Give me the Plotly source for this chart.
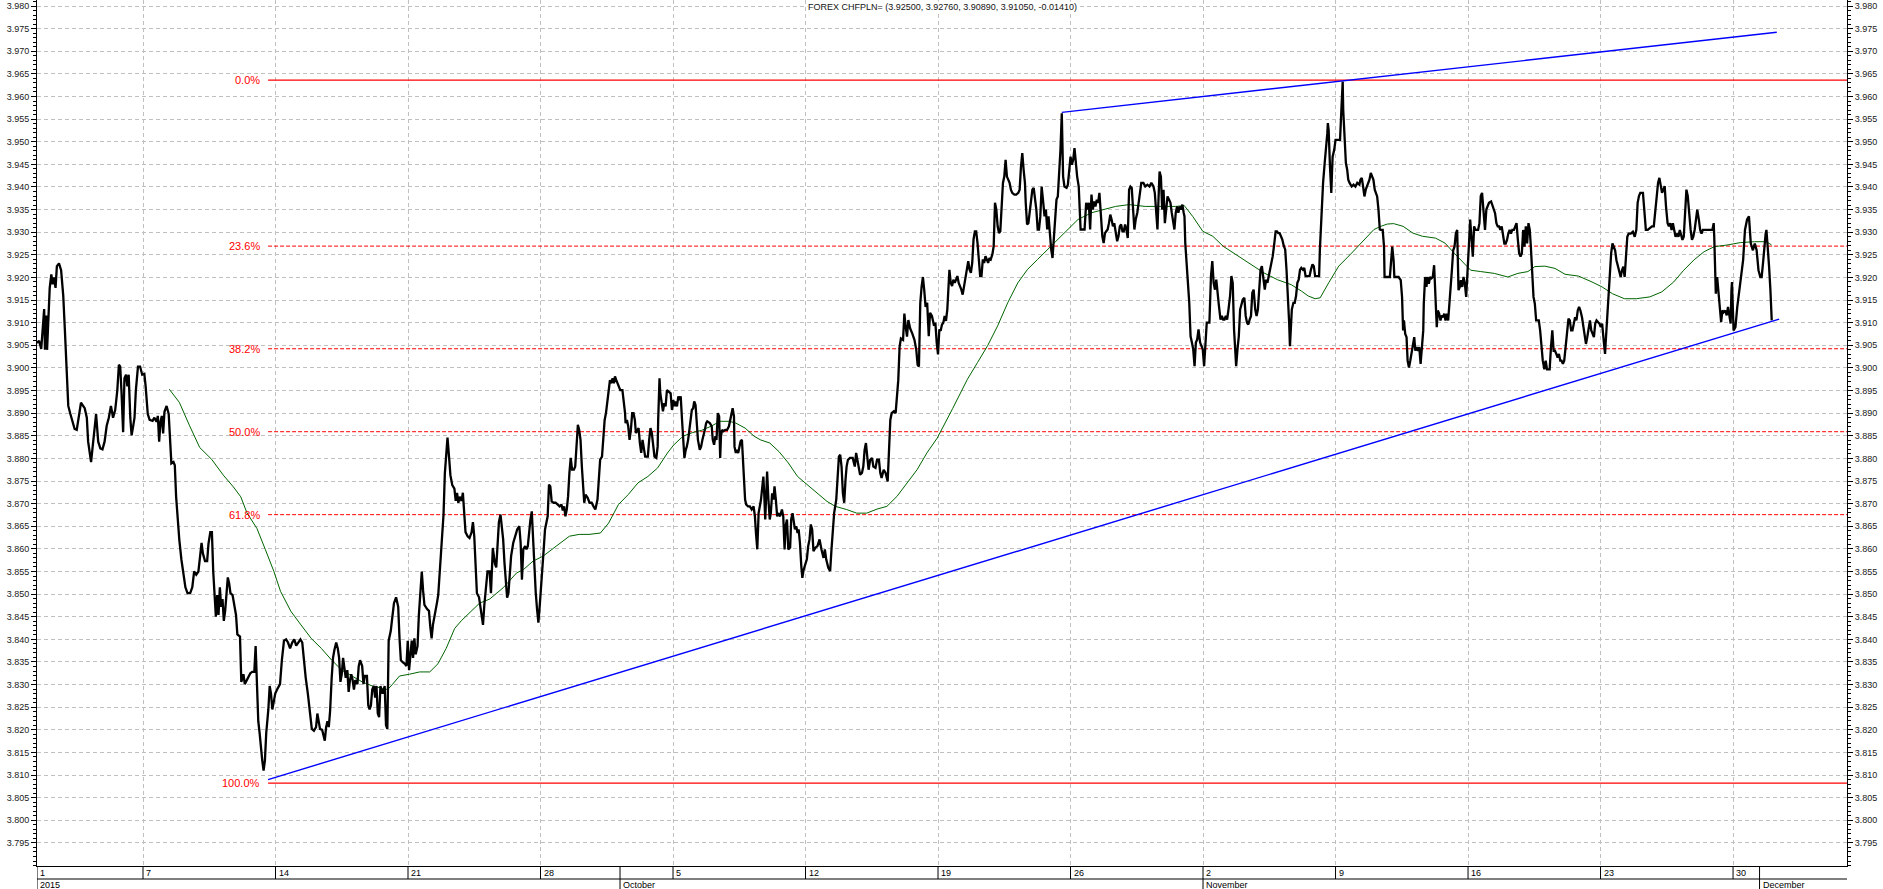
import numpy as np
import pandas as pd
import plotly.graph_objects as go

# ---------------- data (time in trading days since 2015-09-01 00:00) ----------------
START = "2015-09-01"

sep_pts = [
(0.00,3.9055),(0.08,3.9060),(0.16,3.9042),(0.21,3.9090),(0.27,3.9130),(0.30,3.9040),(0.35,3.9116),(0.38,3.9040),
(0.43,3.9130),(0.48,3.9177),(0.54,3.9207),(0.59,3.9185),(0.64,3.9200),(0.70,3.9177),(0.75,3.9225),(0.83,3.9231),
(0.91,3.9216),(0.99,3.9160),(1.05,3.9086),(1.13,3.8994),(1.18,3.8916),(1.26,3.8898),(1.34,3.8881),(1.42,3.8865),
(1.50,3.8863),(1.58,3.8898),(1.66,3.8923),(1.80,3.8911),(1.88,3.8890),(1.93,3.8837),(1.99,3.8811),(2.04,3.8792),
(2.09,3.8820),(2.17,3.8872),(2.23,3.8898),(2.31,3.8837),(2.39,3.8822),(2.47,3.8820),(2.55,3.8837),(2.63,3.8872),
(2.71,3.8890),(2.79,3.8916),(2.87,3.8890),(2.95,3.8907),(3.03,3.8950),(3.09,3.9007),(3.14,3.9003),(3.19,3.8945),
(3.25,3.8858),(3.30,3.8977),(3.36,3.8985),(3.41,3.8959),(3.46,3.8985),(3.52,3.8890),(3.57,3.8851),(3.62,3.8868),
(3.68,3.8890),(3.73,3.8950),(3.81,3.9003),(3.89,3.9003),(3.97,3.8985),(4.05,3.8987),(4.10,3.8959),(4.18,3.8898),
(4.25,3.8885),(4.36,3.8883),(4.43,3.8890),(4.51,3.8881),(4.56,3.8894),(4.61,3.8837),(4.66,3.8881),(4.71,3.8894),
(4.76,3.8855),(4.81,3.8903),(4.89,3.8916),(4.97,3.8898),(5.02,3.8846),(5.07,3.8789),(5.15,3.8792),(5.20,3.8785),
(5.25,3.8715),(5.32,3.8654),(5.37,3.8620),(5.45,3.8576),(5.53,3.8541),(5.60,3.8515),(5.68,3.8502),(5.78,3.8502),
(5.86,3.8515),(5.93,3.8550),(6.01,3.8543),(6.09,3.8550),(6.14,3.8576),(6.21,3.8613),(6.26,3.8590),(6.34,3.8573),
(6.42,3.8573),(6.47,3.8611),(6.54,3.8637),(6.60,3.8637),(6.65,3.8550),(6.70,3.8507),(6.75,3.8450),(6.80,3.8498),
(6.85,3.8454),(6.90,3.8515),(6.95,3.8472),(7.00,3.8489),(7.05,3.8441),(7.10,3.8463),(7.15,3.8507),(7.20,3.8537),
(7.25,3.8524),(7.30,3.8502),(7.38,3.8498),(7.46,3.8472),(7.51,3.8454),(7.56,3.8411),(7.66,3.8406),(7.71,3.8306),
(7.79,3.8323),(7.84,3.8301),(7.92,3.8310),(7.97,3.8315),(8.05,3.8325),(8.12,3.8328),(8.20,3.8328),(8.25,3.8385),
(8.30,3.8297),(8.35,3.8219),(8.40,3.8193),(8.45,3.8158),(8.50,3.8132),(8.55,3.8110),(8.60,3.8132),(8.65,3.8193),
(8.73,3.8245),(8.78,3.8297),(8.83,3.8280),(8.88,3.8245),(8.94,3.8262),(8.99,3.8280),(9.06,3.8289),(9.12,3.8297),
(9.17,3.8301),(9.24,3.8354),(9.32,3.8397),(9.40,3.8400),(9.47,3.8393),(9.55,3.8380),(9.63,3.8393),(9.71,3.8400),
(9.78,3.8386),(9.86,3.8393),(9.94,3.8400),(10.01,3.8393),(10.06,3.8359),(10.14,3.8315),(10.22,3.8280),(10.27,3.8254),
(10.32,3.8228),(10.37,3.8202),(10.45,3.8198),(10.53,3.8206),(10.58,3.8236),(10.63,3.8219),(10.68,3.8202),(10.76,3.8200),
(10.81,3.8184),(10.86,3.8176),(10.91,3.8206),(10.96,3.8219),(11.01,3.8206),(11.06,3.8241),(11.12,3.8315),(11.17,3.8359),
(11.22,3.8376),(11.29,3.8393),(11.35,3.8380),(11.40,3.8359),(11.45,3.8306),(11.50,3.8323),(11.55,3.8359),(11.60,3.8341),
(11.65,3.8315),(11.71,3.8332),(11.76,3.8284),(11.81,3.8310),(11.86,3.8323),(11.91,3.8310),(11.96,3.8289),(12.01,3.8310),
(12.09,3.8301),(12.14,3.8341),(12.19,3.8354),(12.27,3.8341),(12.32,3.8301),(12.37,3.8319),(12.45,3.8319),(12.50,3.8254),
(12.55,3.8245),(12.60,3.8254),(12.65,3.8289),(12.71,3.8297),(12.76,3.8271),(12.81,3.8297),(12.86,3.8236),(12.91,3.8228),
(12.96,3.8297),(13.04,3.8280),(13.12,3.8297),(13.17,3.8210),(13.22,3.8202),(13.27,3.8397),(13.35,3.8419),(13.40,3.8445),
(13.47,3.8480),(13.55,3.8493),(13.63,3.8472),(13.68,3.8402),(13.73,3.8354),(13.81,3.8349),(13.88,3.8346),(13.94,3.8341),
(13.99,3.8397),(14.04,3.8332),(14.09,3.8372),(14.14,3.8397),(14.19,3.8359),(14.24,3.8402),(14.29,3.8367),(14.36,3.8385),
(14.41,3.8454),(14.46,3.8507),(14.52,3.8550),(14.57,3.8507),(14.62,3.8476),(14.72,3.8467),(14.79,3.8463),(14.84,3.8428),
(14.89,3.8402),(14.94,3.8432),(15.02,3.8463),(15.09,3.8480),(15.14,3.8498),(15.19,3.8541),(15.24,3.8576),(15.29,3.8620),
(15.34,3.8676),(15.39,3.8767),(15.44,3.8820),(15.49,3.8846),(15.55,3.8802),(15.60,3.8763),(15.67,3.8741),(15.75,3.8733),
(15.80,3.8706),(15.85,3.8724),(15.90,3.8702),(15.95,3.8715),(16.02,3.8706),(16.07,3.8724),(16.12,3.8680),(16.17,3.8637),
(16.25,3.8628),(16.32,3.8624),(16.40,3.8637),(16.45,3.8659),(16.50,3.8628),(16.55,3.8576),(16.60,3.8502),(16.68,3.8493),
(16.73,3.8472),(16.78,3.8454),(16.83,3.8432),(16.88,3.8476),(16.95,3.8532),(17.00,3.8550),(17.08,3.8550),(17.13,3.8502),
(17.20,3.8602),(17.28,3.8567),(17.33,3.8559),(17.38,3.8611),(17.43,3.8659),(17.49,3.8676),(17.54,3.8650),(17.59,3.8621),
(17.64,3.8569),(17.69,3.8518),(17.74,3.8492),(17.79,3.8503),(17.84,3.8547),(17.89,3.8584),(17.97,3.8613),(18.05,3.8628),
(18.12,3.8643),(18.20,3.8650),(18.25,3.8613),(18.30,3.8532),(18.35,3.8599),(18.42,3.8606),(18.47,3.8599),(18.52,3.8606),
(18.57,3.8643),(18.62,3.8665),(18.67,3.8683),(18.72,3.8621),(18.77,3.8540),(18.82,3.8503),(18.87,3.8466),(18.92,3.8437),
(18.97,3.8474),(19.02,3.8510),(19.07,3.8562),(19.12,3.8599),(19.17,3.8643),(19.22,3.8657),(19.27,3.8672),(19.32,3.8742),
(19.37,3.8738),(19.42,3.8705),(19.49,3.8702),(19.57,3.8702),(19.64,3.8698),(19.72,3.8694),(19.79,3.8698),(19.84,3.8685),
(19.89,3.8694),(19.94,3.8672),(19.99,3.8687),(20.04,3.8716),(20.09,3.8768),(20.14,3.8801),(20.19,3.8775),(20.26,3.8775),
(20.31,3.8782),(20.36,3.8841),(20.41,3.8874),(20.46,3.8863),(20.51,3.8841),(20.56,3.8782),(20.60,3.8738),(20.65,3.8702),
(20.70,3.8720),(20.78,3.8713),(20.85,3.8702),(20.93,3.8702),(21.00,3.8694),(21.07,3.8687),(21.15,3.8709),(21.20,3.8753),
(21.25,3.8797),(21.32,3.8804),(21.37,3.8841),(21.42,3.8885),(21.47,3.8900),(21.52,3.8922),(21.57,3.8944),(21.62,3.8973),
(21.67,3.8966),(21.72,3.8977),(21.77,3.8966),(21.81,3.8981),(21.86,3.8973),(21.94,3.8959),
]

oct_pts = [
(22.01,3.8951),(22.09,3.8951),(22.14,3.8929),(22.19,3.8900),(22.21,3.8878),(22.26,3.8885),(22.31,3.8871),(22.36,3.8841),
(22.41,3.8863),(22.46,3.8900),(22.51,3.8900),(22.56,3.8885),(22.60,3.8856),(22.65,3.8863),(22.70,3.8867),(22.75,3.8834),
(22.80,3.8812),(22.85,3.8841),(22.90,3.8826),(22.95,3.8804),(23.00,3.8804),(23.05,3.8804),(23.10,3.8841),(23.15,3.8867),
(23.20,3.8856),(23.25,3.8826),(23.30,3.8804),(23.37,3.8801),(23.42,3.8826),(23.44,3.8885),(23.49,3.8977),(23.52,3.8944),
(23.57,3.8922),(23.62,3.8904),(23.67,3.8922),(23.72,3.8915),(23.77,3.8951),(23.84,3.8947),(23.91,3.8944),(23.96,3.8907),
(24.01,3.8929),(24.06,3.8915),(24.10,3.8926),(24.15,3.8915),(24.20,3.8937),(24.24,3.8929),(24.29,3.8937),(24.34,3.8885),
(24.38,3.8841),(24.43,3.8801),(24.48,3.8819),(24.52,3.8826),(24.57,3.8841),(24.62,3.8863),(24.66,3.8885),(24.71,3.8907),
(24.76,3.8911),(24.80,3.8926),(24.85,3.8918),(24.90,3.8885),(24.94,3.8841),(25.01,3.8819),(25.06,3.8826),(25.11,3.8841),
(25.15,3.8849),(25.20,3.8863),(25.25,3.8878),(25.29,3.8882),(25.39,3.8878),(25.46,3.8871),(25.50,3.8841),(25.55,3.8830),
(25.60,3.8849),(25.64,3.8841),(25.69,3.8900),(25.74,3.8893),(25.78,3.8801),(25.81,3.8849),(25.85,3.8863),(25.90,3.8860),
(25.97,3.8863),(26.04,3.8863),(26.11,3.8871),(26.16,3.8885),(26.20,3.8904),(26.25,3.8911),(26.30,3.8893),(26.32,3.8826),
(26.37,3.8812),(26.41,3.8819),(26.46,3.8812),(26.51,3.8826),(26.55,3.8838),(26.60,3.8841),(26.62,3.8819),(26.67,3.8753),
(26.72,3.8709),(26.76,3.8698),(26.83,3.8694),(26.90,3.8694),(26.97,3.8687),(27.04,3.8694),(27.09,3.8672),(27.13,3.8635),
(27.18,3.8599),(27.23,3.8679),(27.27,3.8690),(27.32,3.8709),(27.37,3.8738),(27.41,3.8760),(27.44,3.8723),(27.48,3.8665),
(27.53,3.8738),(27.55,3.8771),(27.60,3.8709),(27.65,3.8665),(27.69,3.8679),(27.74,3.8723),(27.79,3.8709),(27.83,3.8738),
(27.88,3.8709),(27.93,3.8672),(27.97,3.8679),(28.04,3.8672),(28.11,3.8687),(28.16,3.8672),(28.21,3.8599),(28.25,3.8650),
(28.30,3.8665),(28.35,3.8599),(28.42,3.8603),(28.46,3.8665),(28.51,3.8679),(28.56,3.8650),(28.60,3.8643),(28.65,3.8650),
(28.70,3.8635),(28.74,3.8643),(28.79,3.8613),(28.84,3.8562),(28.88,3.8536),(28.93,3.8554),(29.00,3.8566),(29.05,3.8577),
(29.10,3.8606),(29.15,3.8621),(29.20,3.8654),(29.25,3.8643),(29.30,3.8595),(29.38,3.8603),(29.45,3.8606),(29.53,3.8621),
(29.60,3.8599),(29.68,3.8580),(29.73,3.8599),(29.78,3.8577),(29.86,3.8558),(29.93,3.8551),(29.98,3.8599),(30.03,3.8635),
(30.08,3.8679),(30.16,3.8709),(30.21,3.8753),(30.26,3.8804),(30.31,3.8808),(30.36,3.8782),(30.41,3.8723),(30.46,3.8702),
(30.51,3.8753),(30.55,3.8782),(30.60,3.8797),(30.68,3.8801),(30.78,3.8801),(30.86,3.8782),(30.91,3.8812),(30.98,3.8793),
(31.06,3.8764),(31.13,3.8768),(31.18,3.8782),(31.23,3.8819),(31.28,3.8834),(31.33,3.8804),(31.38,3.8775),(31.44,3.8797),
(31.51,3.8801),(31.56,3.8782),(31.64,3.8779),(31.70,3.8797),(31.77,3.8797),(31.82,3.8768),(31.87,3.8757),(31.95,3.8775),
(32.02,3.8768),(32.10,3.8749),(32.15,3.8826),(32.20,3.8885),(32.25,3.8900),(32.33,3.8904),(32.40,3.8900),(32.45,3.8929),
(32.50,3.8973),(32.55,3.9047),(32.60,3.9065),(32.68,3.9062),(32.73,3.9120),(32.78,3.9091),(32.83,3.9069),(32.88,3.9106),
(32.95,3.9087),(33.03,3.9076),(33.11,3.9062),(33.18,3.9040),(33.23,3.9007),(33.28,3.9003),(33.33,3.9143),(33.38,3.9179),
(33.43,3.9201),(33.48,3.9172),(33.53,3.9135),(33.59,3.9144),(33.65,3.9070),(33.70,3.9122),(33.77,3.9115),(33.85,3.9093),
(33.90,3.9100),(33.95,3.9056),(34.00,3.9030),(34.05,3.9085),(34.10,3.9082),(34.15,3.9096),(34.20,3.9100),(34.25,3.9115),
(34.30,3.9104),(34.35,3.9129),(34.40,3.9188),(34.43,3.9217),(34.48,3.9188),(34.53,3.9181),(34.58,3.9195),(34.63,3.9188),
(34.68,3.9195),(34.73,3.9203),(34.78,3.9188),(34.83,3.9181),(34.88,3.9173),(34.93,3.9162),(34.98,3.9181),(35.04,3.9195),
(35.09,3.9217),(35.14,3.9236),(35.19,3.9217),(35.24,3.9210),(35.29,3.9232),(35.34,3.9284),(35.39,3.9302),(35.44,3.9302),
(35.49,3.9276),(35.54,3.9232),(35.59,3.9203),(35.64,3.9203),(35.69,3.9240),(35.74,3.9232),(35.79,3.9247),(35.84,3.9240),
(35.89,3.9232),(35.94,3.9243),(35.99,3.9240),(36.05,3.9251),(36.10,3.9269),(36.15,3.9365),(36.20,3.9350),(36.25,3.9313),
(36.30,3.9298),(36.35,3.9302),(36.40,3.9365),(36.45,3.9409),(36.50,3.9423),(36.55,3.9460),(36.60,3.9423),(36.65,3.9416),
(36.70,3.9409),(36.75,3.9394),(36.80,3.9387),(36.88,3.9383),(36.95,3.9383),(37.03,3.9387),(37.08,3.9394),(37.13,3.9445),
(37.18,3.9475),(37.23,3.9438),(37.28,3.9409),(37.31,3.9365),(37.36,3.9317),(37.41,3.9320),(37.46,3.9350),(37.51,3.9379),
(37.56,3.9394),(37.61,3.9398),(37.66,3.9379),(37.71,3.9350),(37.76,3.9306),(37.81,3.9306),(37.86,3.9335),(37.91,3.9401),
(37.96,3.9372),(38.02,3.9335),(38.07,3.9350),(38.12,3.9306),(38.17,3.9335),(38.22,3.9291),(38.27,3.9262),(38.32,3.9243),
(38.37,3.9284),(38.42,3.9320),(38.47,3.9372),(38.52,3.9379),(38.57,3.9423),(38.62,3.9482),(38.67,3.9563),(38.70,3.9497),
(38.72,3.9423),(38.77,3.9401),(38.85,3.9398),(38.90,3.9405),(38.95,3.9438),(39.00,3.9467),(39.05,3.9449),(39.10,3.9460),
(39.15,3.9486),(39.20,3.9453),(39.25,3.9423),(39.31,3.9401),(39.36,3.9350),(39.38,3.9306),(39.43,3.9306),(39.53,3.9306),
(39.59,3.9365),(39.64,3.9350),(39.69,3.9365),(39.74,3.9306),(39.79,3.9383),(39.84,3.9350),(39.89,3.9368),(39.94,3.9357),
(39.99,3.9372),(40.04,3.9365),(40.09,3.9387),(40.15,3.9335),(40.20,3.9291),(40.25,3.9276),(40.30,3.9298),(40.35,3.9302),
(40.40,3.9306),(40.45,3.9320),(40.50,3.9339),(40.55,3.9328),(40.60,3.9313),(40.65,3.9320),(40.70,3.9302),(40.76,3.9280),
(40.81,3.9291),(40.86,3.9313),(40.91,3.9317),(40.96,3.9302),(41.01,3.9302),(41.06,3.9317),(41.11,3.9306),(41.16,3.9287),
(41.21,3.9394),(41.26,3.9401),(41.31,3.9398),(41.36,3.9335),(41.41,3.9306),(41.46,3.9328),(41.52,3.9343),(41.57,3.9365),
(41.62,3.9387),(41.67,3.9409),(41.75,3.9409),(41.82,3.9401),(41.90,3.9405),(41.98,3.9401),(42.05,3.9409),(42.13,3.9401),
(42.18,3.9387),(42.23,3.9350),(42.28,3.9306),(42.31,3.9357),(42.36,3.9434),(42.41,3.9423),(42.46,3.9350),(42.51,3.9394),
(42.56,3.9320),(42.61,3.9350),(42.66,3.9379),(42.72,3.9372),(42.77,3.9365),(42.82,3.9343),(42.87,3.9320),(42.92,3.9306),
(42.97,3.9343),(43.02,3.9357),(43.07,3.9343),(43.12,3.9357),(43.17,3.9350),(43.22,3.9361),(43.27,3.9343),(43.30,3.9335),
(43.33,3.9276),(43.38,3.9240),(43.43,3.9188),(43.48,3.9144),(43.53,3.9070),(43.58,3.9056),(43.63,3.9041),(43.68,3.9004),
(43.73,3.9056),(43.78,3.9063),(43.83,3.9085),(43.89,3.9056),(43.94,3.9048),(43.99,3.9041),
]

nov_pts = [
(44.04,3.9004),(44.09,3.9056),(44.14,3.9100),(44.19,3.9100),(44.24,3.9100),(44.30,3.9203),(44.35,3.9236),(44.40,3.9188),
(44.45,3.9173),(44.50,3.9195),(44.55,3.9159),(44.60,3.9137),(44.66,3.9107),(44.71,3.9115),(44.76,3.9107),(44.81,3.9107),
(44.86,3.9115),(44.91,3.9107),(44.96,3.9129),(45.02,3.9159),(45.07,3.9203),(45.12,3.9188),(45.17,3.9085),(45.22,3.9041),
(45.25,3.9004),(45.30,3.9041),(45.35,3.9070),(45.40,3.9129),(45.45,3.9144),(45.50,3.9151),(45.56,3.9155),(45.61,3.9115),
(45.66,3.9100),(45.71,3.9096),(45.76,3.9107),(45.81,3.9115),(45.86,3.9166),(45.91,3.9173),(45.97,3.9129),(46.02,3.9115),
(46.07,3.9129),(46.12,3.9173),(46.17,3.9217),(46.22,3.9225),(46.28,3.9188),(46.33,3.9173),(46.38,3.9195),(46.43,3.9188),
(46.48,3.9203),(46.53,3.9217),(46.58,3.9225),(46.63,3.9247),(46.69,3.9276),(46.74,3.9302),(46.79,3.9302),(46.84,3.9298),
(46.89,3.9298),(46.94,3.9291),(46.99,3.9284),(47.05,3.9269),(47.10,3.9262),(47.15,3.9217),(47.20,3.9166),(47.23,3.9115),
(47.25,3.9100),(47.28,3.9048),(47.30,3.9070),(47.35,3.9129),(47.41,3.9144),(47.46,3.9144),(47.51,3.9159),(47.56,3.9188),
(47.61,3.9195),(47.66,3.9217),(47.71,3.9221),(47.77,3.9217),(47.82,3.9221),(47.87,3.9203),(47.92,3.9203),(47.97,3.9203),
(48.02,3.9203),(48.07,3.9217),(48.13,3.9229),(48.18,3.9225),(48.23,3.9203),(48.28,3.9203),(48.33,3.9203),(48.38,3.9203),
(48.41,3.9262),(48.46,3.9335),(48.51,3.9379),(48.53,3.9409),(48.59,3.9453),(48.64,3.9482),(48.69,3.9519),(48.71,3.9541),
(48.74,3.9526),(48.79,3.9445),(48.82,3.9409),(48.84,3.9387),(48.87,3.9438),(48.89,3.9467),(48.95,3.9482),(49.00,3.9504),
(49.05,3.9504),(49.12,3.9504),(49.17,3.9504),(49.22,3.9570),(49.24,3.9607),(49.27,3.9633),(49.29,3.9570),(49.34,3.9497),
(49.39,3.9453),(49.44,3.9438),(49.48,3.9416),(49.53,3.9409),(49.61,3.9401),(49.68,3.9405),(49.75,3.9401),(49.82,3.9409),
(49.90,3.9405),(49.94,3.9416),(49.99,3.9420),(50.04,3.9401),(50.09,3.9379),(50.14,3.9394),(50.19,3.9401),(50.23,3.9409),
(50.28,3.9416),(50.33,3.9431),(50.38,3.9423),(50.43,3.9416),(50.48,3.9394),(50.53,3.9387),(50.57,3.9379),(50.62,3.9350),
(50.67,3.9306),(50.71,3.9305),(50.78,3.9305),(50.83,3.9268),(50.85,3.9201),(50.92,3.9201),(51.00,3.9201),(51.05,3.9201),
(51.09,3.9231),(51.14,3.9268),(51.19,3.9238),(51.22,3.9201),(51.31,3.9201),(51.38,3.9201),(51.46,3.9194),(51.51,3.9157),
(51.55,3.9083),(51.58,3.9105),(51.63,3.9075),(51.68,3.9068),(51.72,3.9016),(51.77,3.9001),(51.82,3.9016),(51.87,3.9031),
(51.92,3.9046),(51.97,3.9068),(52.01,3.9038),(52.06,3.9046),(52.11,3.9038),(52.16,3.9046),(52.21,3.9009),(52.26,3.9046),
(52.31,3.9083),(52.33,3.9142),(52.38,3.9201),(52.43,3.9179),(52.47,3.9201),(52.52,3.9186),(52.57,3.9201),(52.62,3.9198),
(52.67,3.9201),(52.72,3.9227),(52.77,3.9142),(52.82,3.9090),(52.86,3.9127),(52.91,3.9120),(52.96,3.9105),(53.01,3.9116),
(53.06,3.9112),(53.10,3.9120),(53.15,3.9105),(53.20,3.9120),(53.25,3.9105),(53.30,3.9142),(53.35,3.9172),(53.39,3.9216),
(53.44,3.9260),(53.49,3.9268),(53.54,3.9297),(53.59,3.9305),(53.64,3.9172),(53.69,3.9179),(53.73,3.9194),(53.78,3.9179),
(53.83,3.9201),(53.88,3.9186),(53.93,3.9157),(53.98,3.9201),(54.03,3.9268),(54.08,3.9328),(54.13,3.9283),(54.18,3.9246),
(54.23,3.9313),(54.28,3.9305),(54.33,3.9305),(54.38,3.9305),(54.43,3.9320),(54.48,3.9380),(54.53,3.9387),(54.59,3.9350),
(54.64,3.9305),(54.69,3.9350),(54.74,3.9357),(54.79,3.9365),(54.87,3.9368),(54.94,3.9357),(55.02,3.9342),(55.07,3.9320),
(55.12,3.9313),(55.17,3.9313),(55.22,3.9305),(55.27,3.9313),(55.32,3.9290),(55.37,3.9275),(55.42,3.9275),(55.47,3.9283),
(55.52,3.9297),(55.57,3.9305),(55.62,3.9297),(55.67,3.9305),(55.73,3.9305),(55.78,3.9313),(55.83,3.9320),(55.88,3.9283),
(55.93,3.9253),(55.98,3.9246),(56.03,3.9253),(56.08,3.9305),(56.13,3.9268),(56.18,3.9313),(56.23,3.9275),(56.28,3.9320),
(56.33,3.9305),(56.37,3.9268),(56.42,3.9224),(56.47,3.9157),(56.52,3.9142),(56.57,3.9105),(56.62,3.9105),(56.67,3.9105),
(56.72,3.9083),(56.77,3.9038),(56.82,3.9016),(56.88,3.8997),(56.93,3.9016),(56.98,3.8997),(57.03,3.8997),(57.08,3.8997),
(57.13,3.9046),(57.18,3.9083),(57.23,3.9038),(57.28,3.9038),(57.33,3.9031),(57.38,3.9023),(57.43,3.9031),(57.48,3.9016),
(57.53,3.9016),(57.58,3.9009),(57.63,3.9016),(57.69,3.9046),(57.74,3.9083),(57.79,3.9109),(57.84,3.9105),(57.89,3.9083),
(57.94,3.9083),(57.99,3.9098),(58.04,3.9112),(58.09,3.9105),(58.14,3.9127),(58.19,3.9135),(58.24,3.9127),(58.30,3.9112),
(58.35,3.9090),(58.40,3.9068),(58.45,3.9053),(58.50,3.9068),(58.55,3.9090),(58.60,3.9105),(58.65,3.9083),(58.70,3.9075),
(58.75,3.9068),(58.80,3.9098),(58.85,3.9105),(58.91,3.9101),(58.96,3.9098),(59.01,3.9090),(59.06,3.9098),(59.12,3.9060),
(59.17,3.9031),(59.19,3.9053),(59.24,3.9098),(59.29,3.9157),(59.35,3.9209),(59.40,3.9253),(59.45,3.9275),(59.50,3.9268),
(59.55,3.9260),(59.60,3.9238),(59.65,3.9224),(59.71,3.9209),(59.76,3.9201),(59.81,3.9216),(59.86,3.9224),(59.91,3.9201),
(59.96,3.9246),(60.01,3.9290),(60.06,3.9297),(60.14,3.9297),(60.22,3.9301),(60.29,3.9290),(60.35,3.9305),(60.40,3.9365),
(60.45,3.9380),(60.50,3.9387),(60.55,3.9387),(60.60,3.9387),(60.65,3.9350),(60.71,3.9305),(60.78,3.9305),(60.86,3.9309),
(60.94,3.9313),(61.01,3.9313),(61.06,3.9342),(61.12,3.9372),(61.17,3.9409),(61.22,3.9420),(61.27,3.9402),(61.32,3.9387),
(61.37,3.9394),(61.42,3.9402),(61.47,3.9357),(61.53,3.9320),(61.58,3.9313),(61.63,3.9320),(61.68,3.9305),(61.73,3.9320),
(61.78,3.9305),(61.83,3.9290),(61.88,3.9297),(61.94,3.9290),(61.99,3.9305),(62.04,3.9290),(62.09,3.9283),(62.14,3.9290),
(62.19,3.9335),(62.24,3.9394),(62.29,3.9380),(62.35,3.9328),(62.40,3.9305),(62.45,3.9283),(62.50,3.9290),(62.55,3.9305),
(62.60,3.9335),(62.65,3.9350),(62.71,3.9328),(62.76,3.9305),(62.81,3.9297),(62.86,3.9305),(63.22,3.9305),(63.27,3.9320),
(63.29,3.9290),(63.32,3.9194),(63.35,3.9164),(63.40,3.9201),(63.45,3.9172),(63.50,3.9127),(63.55,3.9101),(63.60,3.9127),
(63.65,3.9123),(63.71,3.9127),(63.76,3.9116),(63.81,3.9135),(63.86,3.9112),(63.91,3.9098),(63.94,3.9172),(63.96,3.9190),
(64.02,3.9083),(64.09,3.9090),(64.16,3.9135),(64.24,3.9172),(64.31,3.9201),(64.38,3.9238),(64.45,3.9305),(64.53,3.9328),
(64.60,3.9335),(64.67,3.9275),(64.75,3.9260),(64.82,3.9275),(64.89,3.9260),(64.96,3.9216),(65.03,3.9201),(65.08,3.9201),
(65.13,3.9231),(65.18,3.9275),(65.23,3.9297),(65.26,3.9305),(65.31,3.9268),(65.36,3.9224),(65.41,3.9172),(65.46,3.9105),
]

ma_pts = [
(4.99,3.8953),(5.37,3.8924),(5.76,3.8872),(6.14,3.8824),(6.59,3.8798),(7.03,3.8763),(7.41,3.8737),(7.69,3.8715),
(7.92,3.8680),(8.30,3.8645),(8.62,3.8598),(8.94,3.8550),(9.19,3.8506),(9.58,3.8462),(9.96,3.8432),(10.35,3.8402),
(10.73,3.8380),(11.12,3.8354),(11.50,3.8332),(11.89,3.8319),(12.27,3.8306),(12.65,3.8297),(12.91,3.8293),(13.23,3.8289),
(13.42,3.8301),(13.68,3.8319),(14.06,3.8323),(14.44,3.8328),(14.82,3.8328),(15.13,3.8346),(15.44,3.8380),(15.76,3.8424),
(16.01,3.8441),(16.32,3.8458),(16.70,3.8480),(17.08,3.8489),(17.59,3.8514),(18.10,3.8547),(18.35,3.8554),(18.72,3.8573),
(19.10,3.8584),(19.59,3.8606),(20.09,3.8628),(20.46,3.8632),(20.83,3.8632),(21.26,3.8635),(21.57,3.8657),(21.94,3.8698),
(22.31,3.8720),(22.68,3.8746),(23.05,3.8760),(23.42,3.8779),(23.79,3.8812),(24.03,3.8830),(24.38,3.8849),(24.73,3.8857),
(25.08,3.8862),(25.43,3.8871),(25.78,3.8882),(26.13,3.8882),(26.37,3.8878),(26.72,3.8867),(27.06,3.8849),(27.30,3.8841),
(27.65,3.8834),(28.00,3.8815),(28.35,3.8790),(28.70,3.8760),(29.05,3.8742),(29.43,3.8724),(29.81,3.8705),(30.12,3.8694),
(30.55,3.8687),(30.93,3.8679),(31.31,3.8679),(31.70,3.8688),(32.07,3.8694),(32.45,3.8716),(32.83,3.8746),(33.21,3.8775),
(33.58,3.8812),(33.97,3.8845),(34.55,3.8910),(35.11,3.8975),(35.49,3.9012),(35.87,3.9049),(36.25,3.9093),(36.63,3.9144),
(37.01,3.9188),(37.38,3.9218),(37.76,3.9240),(38.14,3.9262),(38.65,3.9291),(39.03,3.9313),(39.28,3.9328),(39.79,3.9343),
(40.30,3.9350),(40.70,3.9357),(41.21,3.9361),(41.82,3.9357),(42.46,3.9357),(42.97,3.9357),(43.29,3.9359),(43.61,3.9335),
(43.99,3.9302),(44.37,3.9291),(44.76,3.9269),(45.14,3.9254),(45.53,3.9240),(45.91,3.9225),(46.30,3.9210),(46.81,3.9195),
(47.33,3.9184),(47.71,3.9170),(47.97,3.9159),(48.23,3.9153),(48.42,3.9155),(48.74,3.9188),(49.12,3.9225),(49.61,3.9254),
(49.97,3.9276),(50.45,3.9306),(50.71,3.9313),(50.95,3.9318),(51.19,3.9319),(51.55,3.9313),(51.92,3.9298),(52.28,3.9291),
(52.77,3.9287),(53.13,3.9276),(53.49,3.9253),(53.85,3.9231),(54.10,3.9216),(54.48,3.9213),(54.99,3.9209),(55.50,3.9201),
(55.88,3.9209),(56.26,3.9213),(56.52,3.9224),(56.90,3.9225),(57.28,3.9220),(57.66,3.9207),(58.17,3.9203),(58.68,3.9190),
(59.06,3.9179),(59.45,3.9164),(59.90,3.9153),(60.35,3.9153),(60.86,3.9157),(61.31,3.9168),(61.76,3.9190),(62.14,3.9216),
(62.53,3.9239),(62.91,3.9257),(63.29,3.9268),(63.81,3.9272),(64.27,3.9277),(64.82,3.9279),(65.26,3.9279),(65.45,3.9272),
]

# trend lines (time, value)
support_t = [8.72, 65.74]
support_v = [3.8090, 3.9108]
resist_t = [38.67, 65.65]
resist_v = [3.9565, 3.9742]

# Fibonacci retracement
fib_high = 3.9636
fib_low = 3.8082
fib_ratios = [0.0, 0.236, 0.382, 0.5, 0.618, 1.0]
fib_labels = ["0.0%", "23.6%", "38.2%", "50.0%", "61.8%", "100.0%"]
fib_start_t = 8.72

# axis labels
day_dates = ["2015-09-01", "2015-09-07", "2015-09-14", "2015-09-21", "2015-09-28", "2015-10-01", "2015-10-05",
             "2015-10-12", "2015-10-19", "2015-10-26", "2015-11-02", "2015-11-09", "2015-11-16", "2015-11-23",
             "2015-11-30", "2015-12-01"]
day_text = ["1", "7", "14", "21", "28", "", "5", "12", "19", "26", "2", "9", "16", "23", "30", ""]
grid_dates = ["2015-09-07", "2015-09-14", "2015-09-21", "2015-09-28", "2015-10-05", "2015-10-12", "2015-10-19",
              "2015-10-26", "2015-11-02", "2015-11-09", "2015-11-16", "2015-11-23", "2015-11-30"]
month_dates = ["2015-09-01", "2015-10-01", "2015-11-02", "2015-12-01"]
month_text = ["2015", "October", "November", "December"]
y_ticks = [round(3.795 + 0.005 * i, 3) for i in range(38)]

symbol = "FOREX CHFPLN="
ohlc = ["3.92500", "3.92760", "3.90890", "3.91050", "-0.01410"]

x_range_t = [0.0, 68.30]
y_range = [3.78990, 3.98133]


# ---------------- helpers ----------------
def to_dt(ts):
    ts = np.asarray(ts, dtype=float)
    d = np.floor(ts).astype(int)
    frac = ts - d
    base = np.busday_offset(np.datetime64(START), d, roll="forward")
    mins = np.round(frac * 1440).astype("int64")
    return pd.to_datetime(base) + pd.to_timedelta(mins, unit="m")


pts = sep_pts + oct_pts + nov_pts
price_t = [p[0] for p in pts]
price_v = [p[1] for p in pts]
ma_t = [p[0] for p in ma_pts]
ma_v = [p[1] for p in ma_pts]

FONT = "Liberation Sans, Arial, sans-serif"
xr = to_dt(x_range_t)
W, H = 1883, 889
ML, MR, MT, MB = 37, 36, 0, 23
PH = H - MT - MB

fig = go.Figure()

# fib lines
fib_x0 = to_dt([fib_start_t])[0]
for r, lab in zip(fib_ratios, fib_labels):
    lvl = fib_high - r * (fib_high - fib_low)
    solid = r in (0.0, 1.0)
    fig.add_trace(go.Scatter(x=[fib_x0, xr[1]], y=[lvl, lvl], mode="lines",
                             line=dict(color="#ff0000", width=1.2 if solid else 1,
                                       dash="solid" if solid else "4px,2px"),
                             hoverinfo="skip", showlegend=False))
    fig.add_annotation(x=fib_x0, y=lvl, xref="x", yref="y", text=lab, showarrow=False,
                       xanchor="right", yanchor="middle", xshift=-6,
                       font=dict(family=FONT, size=11, color="#ff0000"))

fig.add_trace(go.Scatter(x=to_dt(ma_t), y=ma_v, mode="lines",
                         line=dict(color="#006400", width=1), hoverinfo="skip", showlegend=False))
fig.add_trace(go.Scatter(x=to_dt(price_t), y=price_v, mode="lines",
                         line=dict(color="#000000", width=2.3), showlegend=False))
fig.add_trace(go.Scatter(x=to_dt(support_t), y=support_v, mode="lines",
                         line=dict(color="#0000ff", width=1.4), hoverinfo="skip", showlegend=False))
fig.add_trace(go.Scatter(x=to_dt(resist_t), y=resist_v, mode="lines", yaxis="y2",
                         line=dict(color="#0000ff", width=1.4), hoverinfo="skip", showlegend=False))

# bottom label box
row1 = -13.0 / PH
row2 = -23.0 / PH
shapes = [dict(type="line", xref="paper", yref="paper", x0=0, x1=1, y0=row1, y1=row1,
               line=dict(color="black", width=1))]
for d in day_dates:
    y_end = row2 if d in month_dates else row1
    shapes.append(dict(type="line", xref="x", yref="paper", x0=d, x1=d, y0=0, y1=y_end,
                       line=dict(color="black", width=1)))
for d in month_dates:
    if d not in day_dates:
        shapes.append(dict(type="line", xref="x", yref="paper", x0=d, x1=d, y0=0, y1=row2,
                           line=dict(color="black", width=1)))
fig.update_layout(shapes=shapes)

for d, txt in zip(day_dates, day_text):
    if txt:
        fig.add_annotation(x=d, xref="x", yref="paper", y=-6.5 / PH, text=txt, showarrow=False,
                           xanchor="left", yanchor="middle", xshift=1,
                           font=dict(family=FONT, size=9, color="#000000"))
for d, txt in zip(month_dates, month_text):
    fig.add_annotation(x=d, xref="x", yref="paper", y=-18.5 / PH, text=txt, showarrow=False,
                       xanchor="left", yanchor="middle", xshift=1,
                       font=dict(family=FONT, size=9, color="#000000"))

title = f"{symbol} ({', '.join(ohlc)})"
fig.add_annotation(x=0.5, y=1, xref="paper", yref="paper", text=title, showarrow=False,
                   xanchor="center", yanchor="top", yshift=-1, bgcolor="white", borderpad=0,
                   font=dict(family=FONT, size=9, color="#141414"))

ytext = [f"{v:.3f}" for v in y_ticks]
yax_common = dict(range=y_range, tickmode="array", tickvals=y_ticks, ticktext=ytext,
                  ticks="outside", ticklen=5, tickcolor="black", tickwidth=1,
                  showline=True, linecolor="black", linewidth=1, zeroline=False,
                  tickfont=dict(family=FONT, size=9, color="#202020"),
                  minor=dict(ticks="outside", ticklen=3, tickcolor="black", tick0=3.795, dtick=0.001,
                             showgrid=False))

fig.update_layout(
    width=W, height=H,
    margin=dict(l=ML, r=MR, t=MT, b=MB, pad=0),
    paper_bgcolor="white", plot_bgcolor="white",
    showlegend=False, hovermode=False,
    xaxis=dict(type="date", range=[xr[0], xr[1]],
               rangebreaks=[dict(bounds=["sat", "mon"])],
               tickmode="array", tickvals=grid_dates, showticklabels=False, ticks="",
               showgrid=True, gridcolor="#c0c0c0", gridwidth=1, griddash="4px,3px",
               showline=True, linecolor="black", linewidth=1, zeroline=False),
    yaxis=dict(side="left", showgrid=True, gridcolor="#c0c0c0", gridwidth=1, griddash="4px,3px",
               **yax_common),
    yaxis2=dict(side="right", overlaying="y", matches="y", anchor="x", showgrid=False,
                **yax_common),
)

fig.write_html("out.html")
